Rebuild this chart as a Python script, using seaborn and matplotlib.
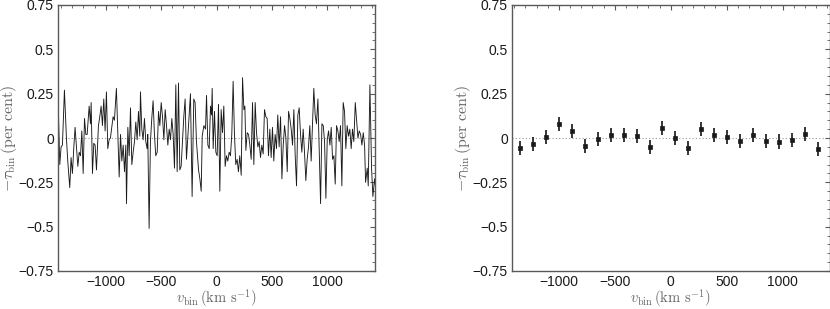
import matplotlib
matplotlib.use("Agg")
import matplotlib.pyplot as plt
from matplotlib.ticker import MultipleLocator
import numpy as np
import pandas as pd
import seaborn as sns

# left panel: optical depth in narrow velocity bins (km/s, per cent)
v_fine = [-1426, -1414, -1402, -1390, -1372, -1354, -1342, -1324, -1312, -1300,
          -1288, -1276, -1264, -1251, -1239, -1227, -1215, -1203, -1191, -1179,
          -1167, -1149, -1137, -1131, -1119, -1107, -1095, -1083, -1065, -1053,
          -1041, -1029, -1017, -1005, -993, -981, -969, -957, -945, -933,
          -921, -903, -890, -878, -866, -854, -842, -830, -818, -812,
          -800, -788, -776, -764, -752, -740, -728, -716, -704, -692,
          -686, -674, -662, -650, -638, -626, -620, -608, -596, -584,
          -572, -560, -548, -535, -523, -511, -499, -487, -475, -463,
          -451, -439, -427, -415, -403, -391, -379, -367, -355, -343,
          -331, -319, -307, -295, -283, -271, -259, -235, -220, -205,
          -193, -181, -162, -150, -138, -129, -114, -99, -90, -78,
          -66, -54, -45, -39, -30, -18, -6, 6, 18, 30,
          42, 54, 66, 78, 90, 102, 114, 126, 138, 150,
          162, 174, 186, 198, 210, 223, 235, 247, 256, 265,
          277, 289, 301, 313, 325, 337, 349, 361, 373, 385,
          397, 409, 421, 433, 445, 457, 469, 481, 493, 505,
          517, 529, 541, 553, 565, 578, 590, 602, 614, 626,
          638, 650, 662, 674, 686, 698, 710, 722, 734, 746,
          758, 770, 782, 794, 806, 818, 830, 842, 854, 866,
          878, 890, 902, 915, 927, 939, 951, 963, 975, 987,
          999, 1011, 1023, 1035, 1047, 1059, 1071, 1083, 1095, 1107,
          1119, 1131, 1143, 1155, 1167, 1179, 1191, 1203, 1215, 1227,
          1239, 1252, 1264, 1276, 1288, 1300, 1312, 1324, 1336, 1345,
          1360, 1369, 1384, 1399, 1411, 1426, 1435]
tau_fine = [0.14, -0.15, -0.05, -0.04, 0.27, 0.00, -0.13, -0.28, -0.11, -0.20,
            -0.06, 0.06, -0.05, -0.16, -0.08, -0.10, 0.04, -0.20, 0.11, 0.02,
            0.02, 0.18, 0.08, 0.20, -0.20, -0.03, -0.04, -0.18, 0.07, 0.12,
            0.18, 0.07, 0.22, 0.04, 0.26, -0.06, -0.01, 0.00, 0.06, 0.12,
            0.10, 0.28, 0.02, -0.22, 0.02, -0.13, -0.04, -0.19, -0.04, -0.37,
            0.06, -0.10, 0.17, -0.15, -0.08, -0.02, 0.09, -0.01, 0.15, 0.01,
            0.26, 0.05, -0.01, 0.11, -0.02, -0.06, 0.02, -0.51, -0.02, 0.11,
            0.21, 0.02, -0.10, -0.08, 0.15, 0.07, 0.20, 0.12, -0.01, 0.16,
            0.07, -0.04, 0.05, -0.01, 0.11, 0.02, -0.17, 0.30, -0.19, 0.31,
            -0.18, -0.16, -0.02, 0.12, 0.22, -0.12, 0.00, 0.25, -0.33, 0.22,
            0.20, -0.02, -0.18, -0.23, -0.30, 0.01, 0.07, 0.05, 0.24, -0.04,
            -0.06, 0.18, 0.13, 0.28, -0.06, 0.15, -0.08, -0.10, 0.19, -0.30,
            0.16, 0.03, 0.18, -0.16, -0.10, -0.13, -0.08, -0.10, 0.02, 0.32,
            0.02, -0.15, -0.12, -0.19, -0.10, -0.21, 0.34, 0.16, 0.18, -0.07,
            0.03, 0.02, -0.04, -0.12, 0.20, -0.15, 0.20, 0.03, -0.05, -0.02,
            -0.11, -0.04, -0.09, 0.16, 0.12, 0.11, -0.10, 0.05, -0.11, 0.06,
            -0.13, 0.02, -0.06, 0.13, -0.05, 0.12, -0.23, -0.04, 0.07, 0.00,
            -0.19, 0.15, 0.11, 0.05, -0.04, 0.16, -0.10, -0.27, 0.13, 0.17,
            0.02, -0.08, 0.05, -0.08, -0.24, -0.12, -0.05, 0.07, -0.13, 0.07,
            0.28, 0.13, 0.08, 0.22, -0.08, -0.37, 0.08, 0.07, -0.02, -0.34,
            -0.01, 0.04, -0.04, 0.06, -0.12, -0.10, -0.26, 0.07, 0.04, -0.02,
            0.07, -0.27, 0.20, 0.15, -0.06, 0.07, 0.01, 0.05, -0.06, 0.05,
            -0.02, 0.20, 0.10, 0.00, 0.04, 0.02, -0.04, 0.03, -0.04, -0.25,
            -0.17, -0.27, 0.30, -0.17, -0.33, -0.23, -0.28]

# right panel: wide bins with 1-sigma errors
v_bin = [-1348, -1232, -1116, -1001, -885, -769, -653, -537, -421, -305,
         -190, -74, 42, 158, 274, 390, 505, 621, 737, 853,
         969, 1085, 1200, 1316]
tau_bin = [-0.056, -0.034, 0.006, 0.080, 0.041, -0.043, -0.007, 0.017, 0.017, 0.013,
           -0.050, 0.058, 0.000, -0.056, 0.049, 0.017, 0.007, -0.015, 0.015, -0.019,
           -0.020, -0.013, 0.024, -0.060]
tau_err = [0.04] * 24

ytick_vals = [-0.75, -0.5, -0.25, 0, 0.25, 0.5, 0.75]
ytick_labels = ["\u22120.75", "\u22120.5", "\u22120.25", "0", "0.25", "0.5", "0.75"]

df_fine = pd.DataFrame({"v": v_fine, "tau": tau_fine})
df_bin = pd.DataFrame({"v": v_bin, "tau": tau_bin, "err": tau_err})

sns.set_theme(style="white")
plt.rcParams["font.family"] = ["Liberation Sans", "DejaVu Sans"]
plt.rcParams["mathtext.fontset"] = "cm"

fig = plt.figure(figsize=(8.3, 3.09), dpi=100)
ax1 = fig.add_axes([58 / 830, 38 / 309, 317 / 830, 266 / 309])
ax2 = fig.add_axes([512 / 830, 38 / 309, 317.5 / 830, 266 / 309])

sns.lineplot(data=df_fine, x="v", y="tau", ax=ax1, color="0.1", lw=0.65,
             estimator=None, sort=False)
ax1.set_xlim(-1430, 1430)

ax2.errorbar(df_bin["v"], df_bin["tau"], yerr=df_bin["err"], fmt="none",
             ecolor="0.15", elinewidth=1.3, capsize=0)
sns.scatterplot(data=df_bin, x="v", y="tau", ax=ax2, marker="s", s=5,
                color="k", edgecolor="k", linewidth=0.5, zorder=3)
ax2.set_xlim(-1420, 1420)

for ax in (ax1, ax2):
    ax.axhline(0, color="0.6", lw=0.8, ls=(0, (1, 2)), zorder=0)
    ax.set_ylim(-0.75, 0.75)
    ax.set_yticks(ytick_vals)
    ax.set_yticklabels(ytick_labels)
    ax.xaxis.set_major_locator(MultipleLocator(500))
    ax.xaxis.set_minor_locator(MultipleLocator(100))
    ax.yaxis.set_minor_locator(MultipleLocator(0.05))
    ax.tick_params(which="both", direction="in", top=True, right=True,
                   labelsize=10, colors="0.35", labelcolor="k")
    ax.tick_params(which="major", length=3.5, width=0.8)
    ax.tick_params(which="minor", length=2, width=0.6)
    ax.tick_params(axis="y", pad=3)
    ax.tick_params(axis="x", pad=3)
    for s in ax.spines.values():
        s.set_color("0.35")
        s.set_linewidth(1.0)
    ax.set_xlabel(r"$v_{\rm bin}\,({\rm km\ s^{-1}})$", fontsize=10.5,
                  color="0.4", labelpad=-0.5)
    ax.set_ylabel(r"$-\tau_{\rm bin}\,({\rm per\ cent})$", fontsize=11.5,
                  color="0.4", labelpad=-0.5)

fig.savefig("out.png", dpi=100)
